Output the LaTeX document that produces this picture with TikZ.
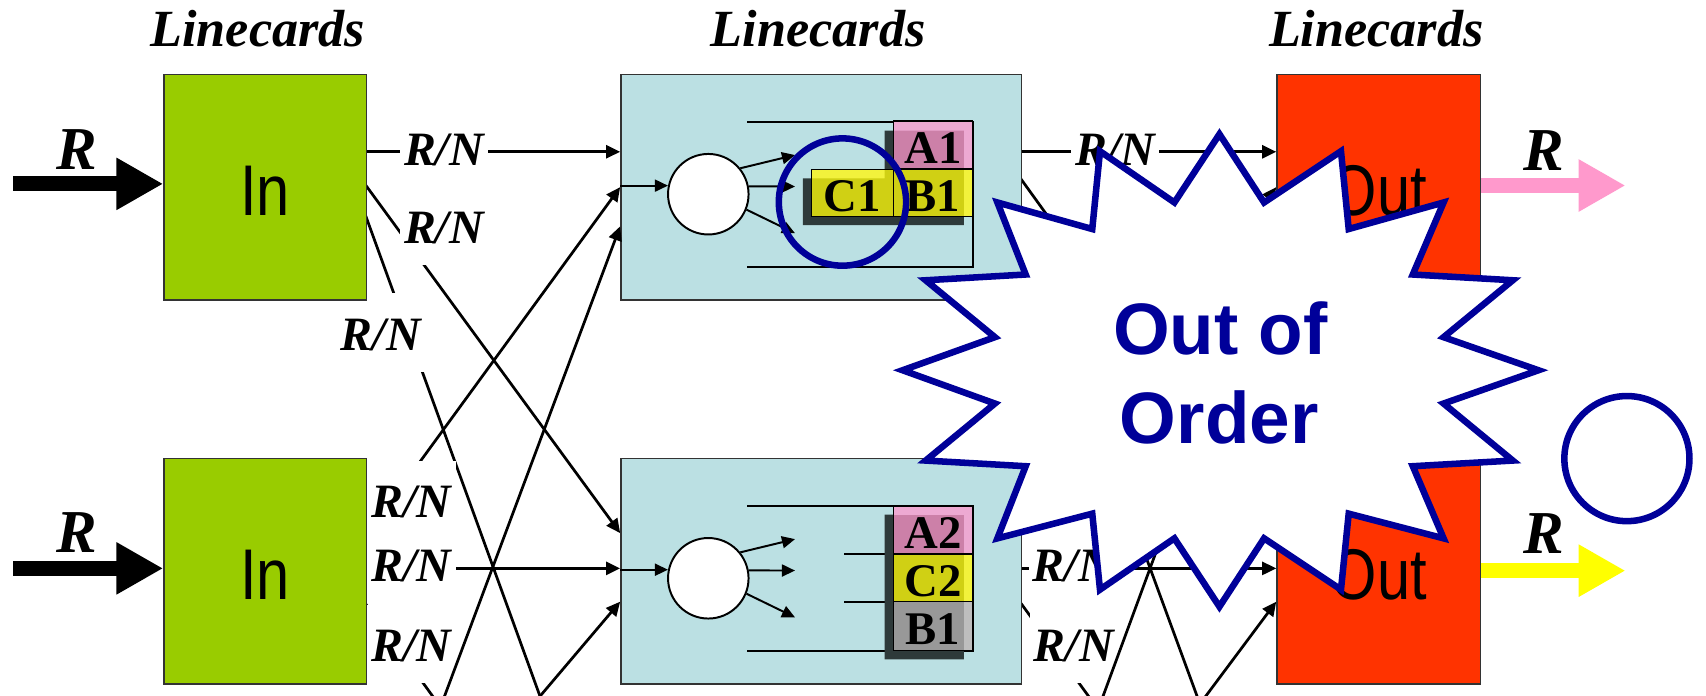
\documentclass[tikz,border=0pt]{standalone}
\usepackage{graphicx}
\usepackage{fontspec}
\setmainfont{Liberation Serif}
\newfontfamily\myarial{Liberation Sans}
\usetikzlibrary{arrows.meta}
\definecolor{ingreen}{HTML}{99CC00}
\definecolor{midblue}{HTML}{BBE0E3}
\definecolor{outred}{HTML}{FF3300}
\definecolor{starblue}{HTML}{000099}
\definecolor{pinkarrow}{HTML}{FF99CC}
\definecolor{yellowarrow}{HTML}{FFFF00}
\definecolor{pinkL}{HTML}{EDA9D2}
\definecolor{pinkD}{HTML}{CC80A8}
\definecolor{yelL}{HTML}{F2F23C}
\definecolor{yelD}{HTML}{D0D014}
\definecolor{grayL}{HTML}{BEBEBE}
\definecolor{grayD}{HTML}{989898}
\definecolor{shadowcol}{HTML}{2E3A3A}
\newcommand\myrnfont{\fontsize{44}{50}\selectfont\bfseries\itshape}
\newcommand\mybigRfont{\fontsize{56}{60}\selectfont\bfseries\itshape}
\newcommand\mytitlefont{\fontsize{48}{54}\selectfont\bfseries\itshape}
\newcommand\mycardfont{\myarial\fontsize{66}{70}\selectfont}
\newcommand\mycellfont{\fontsize{43}{46}\selectfont\bfseries}
\newcommand\mystarfont{\myarial\fontsize{67}{80}\selectfont\bfseries}
\newcommand\squeezetext[1]{\scalebox{0.83}[1]{#1}}
\begin{document}
\begin{tikzpicture}[x=1pt,y=-1pt,
  card/.style={draw=black!80,line width=1.3pt,inner sep=0pt,anchor=north west,text height=52pt,text depth=0pt,font=\mycardfont},
  conn/.style={line width=2.5pt,-{Triangle[length=13pt,width=12pt]}},
  plainconn/.style={line width=2.5pt},
  rn/.style={fill=white,font=\myrnfont,text height=52pt,text depth=20pt,inner xsep=4pt,inner ysep=0pt,anchor=base},
  inarrow/.style={line width=1.8pt,-{Triangle[length=12pt,width=11pt]}},
  qline/.style={line width=1.8pt},
  cellbox/.style={draw=black,line width=1.3pt,inner sep=0pt,font=\mycellfont,text height=34pt,text depth=0pt},
  bigarrow/.style={line width=14pt,-{Triangle[length=43pt,width=45pt]}},
  bigR/.style={font=\mybigRfont,anchor=base,inner sep=0pt},
  titletext/.style={font=\mytitlefont,anchor=base,inner sep=0pt},
  ring/.style={draw=starblue,line width=6pt,circle,inner sep=0pt},
  switchnode/.style={circle,draw=black,line width=1.8pt,fill=white,minimum size=74pt,inner sep=0pt},
  startext/.style={font=\mystarfont,text=starblue,anchor=base,inner sep=0pt}
]
\useasboundingbox (0,0) rectangle (1568,639);
\clip (0,0) rectangle (1568,639);
\fill[white] (0,0) rectangle (1568,639);

% ---------- ports ----------
\coordinate (i1a) at (336,139.5);
\coordinate (i1b) at (336,170);
\coordinate (i1c) at (336,198);
\coordinate (i2a) at (336,493);
\coordinate (i2b) at (336,522.4);
\coordinate (i2c) at (336,555);
\coordinate (i3a) at (336,834);
\coordinate (i3b) at (336,829);
\coordinate (m1a) at (570,139.5);
\coordinate (m1b) at (570,172);
\coordinate (m1c) at (570,208);
\coordinate (m2a) at (570,490);
\coordinate (m2b) at (570,522.4);
\coordinate (m2c) at (570,553);
\coordinate (m3a) at (570,843);
\coordinate (m3b) at (570,877);
\coordinate (k1a) at (938,139.5);
\coordinate (k1b) at (938,164);
\coordinate (k1c) at (938,198);
\coordinate (k2a) at (938,490);
\coordinate (k2b) at (938,522.4);
\coordinate (k2c) at (938,554);
\coordinate (k3a) at (938,846);
\coordinate (k3b) at (938,868);
\coordinate (u1a) at (1173,139.5);
\coordinate (u1b) at (1173,172);
\coordinate (u1c) at (1173,207);
\coordinate (u2a) at (1173,490);
\coordinate (u2b) at (1173,522.4);
\coordinate (u2c) at (1173,553);
\coordinate (u3a) at (1173,838);
\coordinate (u3b) at (1173,877);

% ---------- connectors (under labels) ----------
\draw[conn] (i1a) -- (m1a);
\draw[conn] (i1b) -- (m2a);
\draw[plainconn] (i1c) -- (m3a);
\draw[conn] (i2a) -- (m1b);
\draw[conn] (i2b) -- (m2b);
\draw[plainconn] (i2c) -- (m3b);
\draw[conn] (k1a) -- (u1a);
\draw[conn] (k1b) -- (u2a);
\draw[plainconn] (k1c) -- (u3a);
\draw[conn] (k2a) -- (u1b);
\draw[conn] (k2b) -- (u2b);
\draw[plainconn] (k2c) -- (u3b);

% ---------- R/N labels ----------
\node[rn] (l1) at (408,152) {R/N};
\node[rn] (l2) at (408,223.5) {R/N};
\node[rn] (l3) at (350,321.7) {R/N};
\node[rn] (l4) at (378,476) {R/N};
\node[rn] (l5) at (378,534.6) {R/N};
\node[rn] (l6) at (378,608) {R/N};
\node[rn] (r1) at (1025,152) {R/N};
\node[rn] (r4) at (986,534.6) {R/N};
\node[rn] (r5) at (987,608) {R/N};

% ---------- linecards ----------
\node[card,fill=ingreen,minimum width=186pt,minimum height=207pt] (in1) at (150,68) {\squeezetext{In}};
\node[card,fill=ingreen,minimum width=186pt,minimum height=207pt] (in2) at (150,421) {\squeezetext{In}};
\node[card,fill=midblue,minimum width=368pt,minimum height=207pt] (m1) at (570,68) {};
\node[card,fill=midblue,minimum width=368pt,minimum height=207pt] (m2) at (570,421) {};
\node[card,fill=outred,minimum width=187pt,minimum height=207pt] (out1) at (1173,68) {\squeezetext{Out}};
\node[card,fill=outred,minimum width=187pt,minimum height=207pt] (out2) at (1173,421) {\squeezetext{Out}};

% ---------- connectors from the third row (over labels) ----------
\draw[conn] (i3a) -- (m1c);
\draw[conn] (i3b) -- (m2c);
\draw[conn] (k3a) -- (u1c);
\draw[conn] (k3b) -- (u2c);

% ---------- middle linecard 1 ----------
\node[switchnode] (sw1) at (651,178.5) {};
\draw[inarrow] (sw1.168 -| m1.west) -- (sw1.168);
\coordinate (q1a) at (730.7,142.5);
\coordinate (q1b) at (730.7,171.4);
\coordinate (q1c) at (730.7,214.4);
\draw[inarrow] (sw1.39) -- (q1a);
\draw[inarrow] (sw1.11) -- (q1b);
\draw[inarrow] (sw1.-22) -- (q1c);
\draw[qline] (687,112) -- (894,112) -- (894,245) -- (687,245);
\fill[shadowcol] (813,120) rectangle (886,164) (813,164) rectangle (886,207) (738,164) rectangle (813,207);
\fill[pinkL] (821,112) rectangle (894,156);
\fill[yelL] (746,156) rectangle (894,199);
\begin{scope}
  \clip (821,112) rectangle (894,156);
  \fill[pinkD] (813,120) rectangle (886,164) (813,164) rectangle (886,207) (738,164) rectangle (813,207);
\end{scope}
\begin{scope}
  \clip (746,156) rectangle (894,199);
  \fill[yelD] (813,120) rectangle (886,164) (813,164) rectangle (886,207) (738,164) rectangle (813,207);
\end{scope}
\node[cellbox,minimum width=73pt,minimum height=44pt] (ca1) at (857.5,133) {A1};
\node[cellbox,minimum width=73pt,minimum height=43pt] (cb1) at (857.5,177.5) {B1};
\node[cellbox,minimum width=75pt,minimum height=43pt] (cc1) at (783.5,177.5) {C1};

% ---------- middle linecard 2 ----------
\node[switchnode] (sw2) at (651,531.5) {};
\draw[inarrow] (sw2.168 -| m2.west) -- (sw2.168);
\coordinate (q2a) at (730.7,495.5);
\coordinate (q2b) at (730.7,524.4);
\coordinate (q2c) at (730.7,567.4);
\draw[inarrow] (sw2.39) -- (q2a);
\draw[inarrow] (sw2.11) -- (q2b);
\draw[inarrow] (sw2.-22) -- (q2c);
\draw[qline] (687,465) -- (894,465) -- (894,598) -- (687,598);
\draw[qline] (776,509) -- (821,509);
\draw[qline] (776,553) -- (821,553);
\fill[shadowcol] (813,473) rectangle (886,517) (813,517) rectangle (886,561) (813,561) rectangle (886,606);
\fill[pinkL] (821,465) rectangle (894,509);
\fill[yelL] (821,509) rectangle (894,553);
\fill[grayL] (821,553) rectangle (894,598);
\begin{scope}
  \clip (821,465) rectangle (894,509);
  \fill[pinkD] (813,473) rectangle (886,606);
\end{scope}
\begin{scope}
  \clip (821,509) rectangle (894,553);
  \fill[yelD] (813,473) rectangle (886,606);
\end{scope}
\begin{scope}
  \clip (821,553) rectangle (894,598);
  \fill[grayD] (813,473) rectangle (886,606);
\end{scope}
\node[cellbox,minimum width=73pt,minimum height=44pt] (ca2) at (857.5,487) {A2};
\node[cellbox,minimum width=73pt,minimum height=44pt] (cc2) at (857.5,531) {C2};
\node[cellbox,minimum width=73pt,minimum height=45pt] (cb2) at (857.5,575.5) {B1};

% ---------- external arrows ----------
\coordinate (srcA) at (12,169);
\coordinate (srcB) at (12,522.4);
\coordinate (dstA) at (1494,170.5);
\coordinate (dstB) at (1494,524.5);
\draw[bigarrow] (srcA) -- (srcA -| in1.west);
\draw[bigarrow] (srcB) -- (srcB -| in2.west);
\draw[bigarrow,pinkarrow] (dstA -| out1.east) -- (dstA);
\draw[bigarrow,yellowarrow] (dstB -| out2.east) -- (dstB);
\node[bigR] (rin1) at (71,156) {R};
\node[bigR] (rin2) at (71,508) {R};
\node[bigR] (rout1) at (1418.5,156.4) {R};
\node[bigR] (rout2) at (1418.5,508.7) {R};

% ---------- titles ----------
\node[titletext] (t1) at (237,43) {Linecards};
\node[titletext] (t2) at (752,43) {Linecards};
\node[titletext] (t3) at (1265,43) {Linecards};

% ---------- highlight ring on queue ----------
\node[ring,minimum size=117pt] (ring1) at (774.3,185.7) {};

% ---------- starburst ----------
\draw[draw=starblue,line width=6pt,fill=white,miter limit=10]
  (1120.8,123.3) -- (1161.8,186.1) -- (1232.5,139.0) -- (1239.6,210.5) --
  (1326.8,186.1) -- (1298.5,252.3) -- (1390.4,257.6) -- (1326.8,309.9) --
  (1414.0,340.3) -- (1326.8,370.9) -- (1390.4,423.3) -- (1298.5,428.5) --
  (1326.8,494.8) -- (1239.6,472.1) -- (1232.5,541.9) -- (1161.8,494.8) --
  (1120.8,557.6) -- (1079.4,494.8) -- (1011.0,541.9) -- (1003.9,472.1) --
  (916.7,494.8) -- (942.7,428.5) -- (850.8,423.3) -- (914.4,370.9) --
  (829.6,340.3) -- (914.4,309.9) -- (850.8,257.6) -- (942.7,252.3) --
  (916.7,186.1) -- (1003.9,210.5) -- (1011.0,139.0) -- (1079.4,186.1) -- cycle;
\node[startext] (oo1) at (1121.8,325.6) {Out of};
\node[startext] (oo2) at (1120.6,407.6) {Order};

% ---------- empty ring on the right ----------
\node[ring,minimum size=115pt] (ring2) at (1495.3,421.5) {};
\end{tikzpicture}
\end{document}
